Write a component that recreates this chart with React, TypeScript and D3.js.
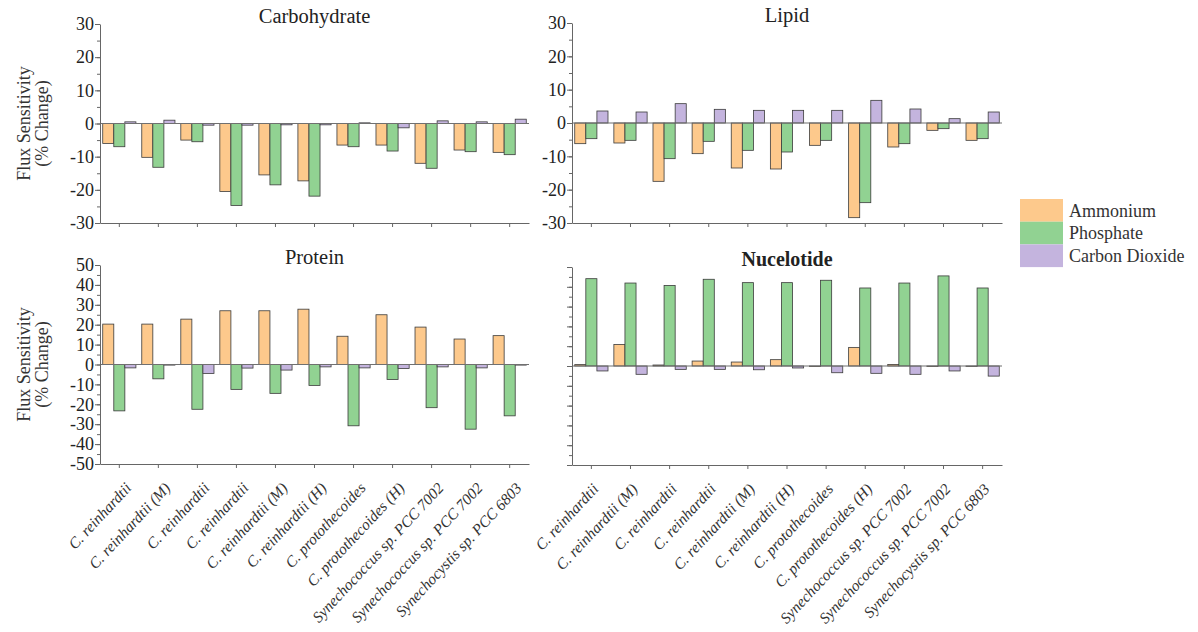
import React, { useEffect, useRef } from 'react';
import * as d3 from 'd3';

// strains (x categories) - same order in every panel
const strains = [
  'C. reinhardtii',
  'C. reinhardtii (M)',
  'C. reinhardtii',
  'C. reinhardtii',
  'C. reinhardtii (M)',
  'C. reinhardtii (H)',
  'C. protothecoides',
  'C. protothecoides (H)',
  'Synechococcus sp. PCC 7002',
  'Synechococcus sp. PCC 7002',
  'Synechocystis sp. PCC 6803',
];
const nutrients = ['Ammonium', 'Phosphate', 'Carbon Dioxide'];
const colors = ['#fdc98c', '#91d292', '#c4b4de'];

// Carbohydrate
const carbAmmonium = [-6, -10.2, -5, -20.5, -15.5, -17.3, -6.5, -6.5, -12, -8, -8.7];
const carbPhosphate = [-7, -13.2, -5.5, -24.7, -18.5, -21.9, -7, -8.3, -13.5, -8.5, -9.4];
const carbCO2 = [0.5, 1, -0.5, -0.5, -0.4, -0.4, 0.2, -1.3, 0.8, 0.5, 1.3];

// Lipid
const lipidAmmonium = [-6.2, -6, -17.5, -9.2, -13.5, -13.8, -6.7, -28.4, -7.2, -2.2, -5.2];
const lipidPhosphate = [-4.7, -5.2, -10.7, -5.5, -8.2, -8.7, -5.2, -23.9, -6.2, -1.7, -4.7];
const lipidCO2 = [3.6, 3.3, 5.8, 4.1, 3.8, 3.8, 3.8, 6.8, 4.2, 1.3, 3.3];

// Protein
const protAmmonium = [20.3, 20.3, 22.8, 27, 27, 27.8, 14.2, 25, 18.8, 12.8, 14.5];
const protPhosphate = [-23.3, -7.2, -22.5, -12.5, -14.5, -10.5, -30.8, -7.5, -21.7, -32.5, -25.8];
const protCO2 = [-1.7, -0.3, -4.5, -1.8, -2.8, -1.2, -1.7, -2, -1.2, -1.7, -0.3];

// Nucelotide
const nucAmmonium = [0.7, 10.9, 0.5, 2.5, 2, 3.2, -0.3, 9.4, 0.8, -0.3, -0.2];
const nucPhosphate = [44.1, 41.9, 40.7, 43.8, 42.1, 42.1, 43.3, 39.4, 41.9, 45.5, 39.4];
const nucCO2 = [-2.5, -4.2, -1.7, -1.7, -1.9, -1, -3.4, -3.7, -4.2, -2.5, -5.1];

const serif = "'Liberation Serif', 'Times New Roman', serif";

const panels = [
  { title: 'Carbohydrate', bold: false, series: [carbAmmonium, carbPhosphate, carbCO2], domain: [-30, 30], left: 100, right: 529, top: 24, bottom: 223, yLabels: true, xLabels: false, labelDx: 9, yTitle: true },
  { title: 'Lipid', bold: false, series: [lipidAmmonium, lipidPhosphate, lipidCO2], domain: [-30, 30], left: 572, right: 1002, top: 23, bottom: 223, yLabels: true, xLabels: false, labelDx: 4, yTitle: false },
  { title: 'Protein', bold: false, series: [protAmmonium, protPhosphate, protCO2], domain: [-50, 50], left: 100, right: 529, top: 265, bottom: 464, yLabels: true, xLabels: true, labelDx: 9, yTitle: true },
  { title: 'Nucelotide', bold: true, series: [nucAmmonium, nucPhosphate, nucCO2], domain: [-50, 50], left: 572, right: 1002, top: 267, bottom: 465, yLabels: false, xLabels: true, labelDx: 4, yTitle: false },
];

const App = () => {
  const ref = useRef(null);

  useEffect(() => {
    const svg = d3.select(ref.current);
    svg.selectAll('*').remove();

    panels.forEach((p) => {
      const g = svg.append('g');
      const idx = d3.range(strains.length);

      const x0 = d3.scaleBand().domain(idx).range([p.left, p.right]).paddingInner(0.15).paddingOuter(0.07);
      const x1 = d3.scaleBand().domain(nutrients).range([0, x0.bandwidth()]);
      const y = d3.scaleLinear().domain(p.domain).range([p.bottom, p.top]);

      // bars
      p.series.forEach((vals, s) => {
        g.append('g')
          .selectAll('rect')
          .data(vals)
          .join('rect')
          .attr('x', (d, i) => x0(i) + x1(nutrients[s]))
          .attr('y', (d) => Math.min(y(d), y(0)))
          .attr('width', x1.bandwidth())
          .attr('height', (d) => Math.abs(y(d) - y(0)))
          .attr('fill', colors[s])
          .attr('stroke', '#3b3b3b')
          .attr('stroke-width', 0.8);
      });

      // zero line
      g.append('line')
        .attr('x1', p.left).attr('x2', p.right)
        .attr('y1', y(0)).attr('y2', y(0))
        .attr('stroke', '#707070').attr('stroke-width', 1.2);

      // minor y ticks
      g.append('g')
        .attr('transform', `translate(${p.left},0)`)
        .call(d3.axisLeft(y).tickValues(d3.range(p.domain[0], p.domain[1] + 1, 5)).tickSize(3).tickFormat(() => '').tickSizeOuter(0))
        .call((a) => a.select('.domain').remove());

      // major y axis
      const yAxis = g.append('g')
        .attr('transform', `translate(${p.left},0)`)
        .call(d3.axisLeft(y).tickValues(d3.range(p.domain[0], p.domain[1] + 1, 10)).tickSize(5).tickSizeOuter(0)
          .tickFormat((d) => (p.yLabels ? String(d) : '')));
      yAxis.selectAll('text')
        .attr('font-family', serif).attr('font-size', 18).attr('fill', '#222').attr('x', -6);

      // x axis
      g.append('g')
        .attr('transform', `translate(0,${p.bottom})`)
        .call(d3.axisBottom(x0).tickSize(4).tickSizeOuter(0).tickFormat(() => ''));

      g.selectAll('.domain, .tick line').attr('stroke', '#666');

      if (p.xLabels) {
        g.append('g')
          .selectAll('text')
          .data(strains)
          .join('text')
          .attr('transform', (d, i) => `translate(${x0(i) + x0.bandwidth() / 2 + p.labelDx},${p.bottom + 21}) rotate(-47)`)
          .attr('text-anchor', 'end')
          .attr('dy', '0.35em')
          .attr('font-family', serif)
          .attr('font-style', 'italic')
          .attr('font-size', 15.5)
          .attr('fill', '#333')
          .text((d) => d);
      }

      // title
      g.append('text')
        .attr('x', (p.left + p.right) / 2)
        .attr('y', p.top - 1)
        .attr('text-anchor', 'middle')
        .attr('font-family', serif)
        .attr('font-size', p.bold ? 20 : 20.5)
        .attr('font-weight', p.bold ? 'bold' : 'normal')
        .attr('fill', '#222')
        .text(p.title);

      if (p.yTitle) {
        const cy = (p.top + p.bottom) / 2;
        const t = g.append('text')
          .attr('transform', `translate(24,${cy}) rotate(-90)`)
          .attr('text-anchor', 'middle')
          .attr('font-family', serif)
          .attr('font-size', 18)
          .attr('fill', '#333');
        t.append('tspan').attr('x', 0).attr('dy', '0.35em').text('Flux Sensitivity');
        t.append('tspan').attr('x', 0).attr('dy', '1em').text('(% Change)');
      }
    });

    // legend
    const legend = svg.append('g').attr('transform', 'translate(1020,199)');
    nutrients.forEach((n, i) => {
      legend.append('rect')
        .attr('x', 0).attr('y', i * 22.7)
        .attr('width', 43).attr('height', 22.7)
        .attr('fill', colors[i]);
      legend.append('text')
        .attr('x', 49).attr('y', i * 22.7 + 11.3)
        .attr('dy', '0.35em')
        .attr('font-family', serif)
        .attr('font-size', 18)
        .attr('fill', '#333')
        .text(n);
    });
  }, []);

  return (
    <svg ref={ref} width={1198} height={632} style={{ position: 'absolute', left: 0, top: 0, background: '#fff' }} />
  );
};

export default App;
